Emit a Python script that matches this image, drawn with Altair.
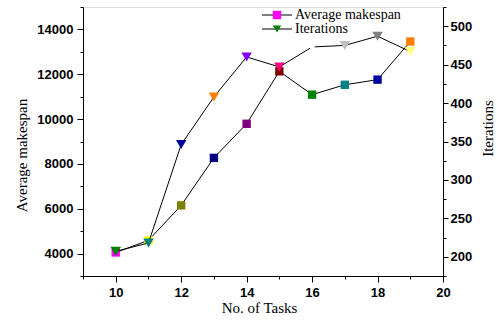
import altair as alt
import pandas as pd

tasks = [10, 11, 12, 13, 14, 15, 16, 17, 18, 19]
makespan = [4050, 4590, 6150, 8270, 9790, 12130, 11090, 11530, 11760, 13460]
iterations = [207, 218, 346, 408, 460, 447, 473, 475, 487, 467]
makespan_colors = ["#FF00FF", "#FFFF00", "#808000", "#000080", "#800080",
                   "#800000", "#008000", "#008080", "#0000A0", "#FF8000"]
iter_colors = ["#008000", "#008080", "#0000A0", "#FF8000", "#8000FF",
               "#FF0080", "#FFFFFF", "#C0C0C0", "#808080", "#FFFF80"]
legend_labels = ["Average makespan", "Iterations"]
legend_colors = ["#FF00FF", "#008000"]
legend_shapes = ["square", "triangle-down"]

df = pd.DataFrame({"tasks": tasks, "makespan": makespan, "iterations": iterations,
                   "mc": makespan_colors, "ic": iter_colors})

LBL = "Liberation Sans"
TTL = "Liberation Serif"

x_axis = alt.Axis(
    values=list(range(9, 21)),
    labelExpr="datum.value % 2 == 0 ? format(datum.value, 'd') : ''",
    tickSize={"condition": {"test": "datum.value % 2 == 0", "value": 6}, "value": 3},
    title="No. of Tasks", titleFont=TTL, titleFontSize=15, titleFontWeight="normal",
    titleY=24, titleX=176, titleColor="black",
    labelFont=LBL, labelFontSize=13, labelFontWeight="bold", labelColor="black",
    labelPadding=4, grid=False, domainColor="black", tickColor="black",
    labelFlush=False,
)
x = alt.X("tasks:Q", scale=alt.Scale(domain=[9, 20], nice=False, zero=False), axis=x_axis)

yl_axis = alt.Axis(
    values=list(range(3000, 15001, 1000)),
    labelExpr="datum.value % 2000 == 0 ? format(datum.value, 'd') : ''",
    tickSize={"condition": {"test": "datum.value % 2000 == 0", "value": 6}, "value": 3},
    title="Average makespan", titleFont=TTL, titleFontSize=15, titleFontWeight="normal",
    titleX=-62, titleY=148, titleBaseline="middle", titleColor="black",
    labelFont=LBL, labelFontSize=13, labelFontWeight="bold", labelColor="black",
    labelPadding=4, grid=False, domainColor="black", tickColor="black", labelFlush=False,
)
yr_axis = alt.Axis(
    orient="right",
    values=list(range(175, 526, 25)),
    labelExpr="datum.value % 50 == 0 ? format(datum.value, 'd') : ''",
    tickSize={"condition": {"test": "datum.value % 50 == 0", "value": 5}, "value": 3},
    title="Iterations", titleFont=TTL, titleFontSize=15, titleFontWeight="normal",
    titleAngle=270, titleX=44, titleY=121, titleBaseline="middle", titleColor="black",
    labelFont=LBL, labelFontSize=13, labelFontWeight="bold", labelColor="black",
    labelPadding=2, grid=False, domainColor="black", tickColor="black", labelFlush=False,
)

base = alt.Chart(df)
yl = alt.Y("makespan:Q", scale=alt.Scale(domain=[3000, 15000], nice=False, zero=False), axis=yl_axis)
yr = alt.Y("iterations:Q", scale=alt.Scale(domain=[175, 525], nice=False, zero=False), axis=yr_axis)

left = alt.layer(
    base.mark_line(color="black", strokeWidth=1).encode(x=x, y=yl),
    base.mark_point(shape="square", filled=True, size=70, opacity=1).encode(
        x=x, y=yl, color=alt.Color("mc:N", scale=None)),
)
right = alt.layer(
    base.mark_line(color="black", strokeWidth=1).encode(x=x, y=yr),
    base.mark_point(shape="triangle-down", filled=True, size=110, opacity=1).encode(
        x=x, y=yr, color=alt.Color("ic:N", scale=None)),
)

leg_df = pd.DataFrame({"label": legend_labels, "color": legend_colors, "shape": legend_shapes,
                       "row": [0, 1]})
leg_y = alt.Y("row:Q", scale=alt.Scale(domain=[0, 1], range=[8, 22]), axis=None)
leg = alt.Chart(leg_df)
legend = alt.layer(
    leg.mark_rule(color="black", strokeWidth=1).encode(x=alt.value(179), x2=alt.value(209), y=leg_y),
    leg.mark_point(filled=True, size=70, opacity=1).encode(
        x=alt.value(194), y=leg_y,
        color=alt.Color("color:N", scale=None),
        shape=alt.Shape("shape:N", scale=None)),
    leg.mark_text(align="left", baseline="middle", font=TTL, fontSize=14, color="black").encode(
        x=alt.value(212), y=leg_y, text="label:N"),
)

chart = alt.layer(left, right, legend).resolve_scale(y="independent").properties(
    width=360, height=269,
    autosize=alt.AutoSizeParams(type="none"),
    padding={"left": 83, "top": 7, "right": 54, "bottom": 45},
).configure_view(stroke=None).configure(background="white")

chart.save("out.html", embed_options={"renderer": "svg", "actions": False})
